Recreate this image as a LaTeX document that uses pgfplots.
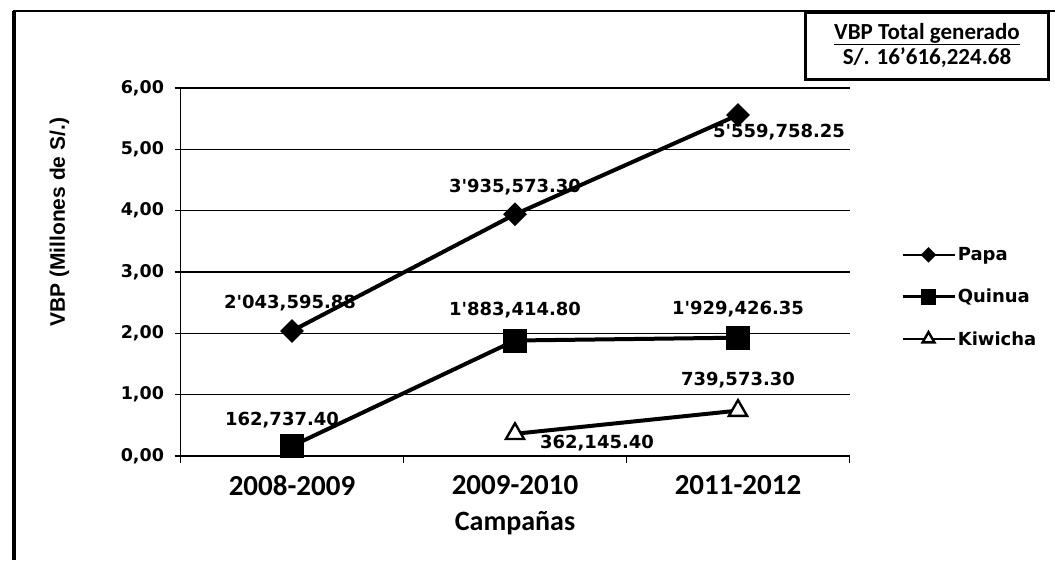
\documentclass[border=0pt]{standalone}
\usepackage{fontspec}
\setmainfont{Carlito}
\newfontfamily\dv{DejaVu Sans}
\newfontfamily\lib{Liberation Sans}
\usepackage{pgfplots}
\pgfplotsset{compat=1.18}
\newcommand{\dvl}{\dv\bfseries\fontsize{18}{21}\selectfont}
\newcommand{\dvt}{\dv\bfseries\fontsize{17.5}{20}\selectfont}
\begin{document}
\begin{tikzpicture}
\useasboundingbox (0,0) rectangle (1055pt,560pt);
% outer frame (left and top)
\draw[line width=3.5pt] (14pt,0pt) -- (14pt,549pt);
\draw[line width=2pt] (12.5pt,549pt) -- (1055pt,549pt);
% total box
\draw[line width=3pt, fill=white] (805pt,480pt) rectangle (1048pt,547pt);
\node[font=\bfseries\fontsize{23}{26}\selectfont] at (927pt,526pt) {\underline{VBP Total generado}};
\node[font=\bfseries\fontsize{23}{26}\selectfont] at (927pt,502pt) {S/. 16'616,224.68};
\begin{axis}[
  at={(180.5pt,104pt)}, anchor=south west,
  scale only axis, width=669pt, height=368pt,
  xmin=-0.5, xmax=2.5, ymin=0, ymax=6,
  axis x line*=bottom, axis y line*=left,
  axis line style={line width=1.6pt, -},
  xtick={0,1,2},
  xticklabels={2008-2009,2009-2010,2011-2012},
  minor xtick={-0.5,0.5,1.5,2.5},
  major x tick style={draw=none},
  minor x tick style={line width=1.4pt, black},
  minor tick length=7pt,
  ytick={0,1,2,3,4,5,6},
  yticklabels={{0,00},{1,00},{2,00},{3,00},{4,00},{5,00},{6,00}},
  major tick length=6pt,
  tick align=outside,
  y tick style={line width=1.4pt, black},
  ymajorgrids,
  grid style={line width=1.4pt, black},
  yticklabel style={font=\dvt, xshift=-7pt},
  xticklabel style={font=\bfseries\fontsize{29}{32}\selectfont, yshift=-10pt},
  xlabel={Campañas},
  xlabel style={font=\bfseries\fontsize{28}{31}\selectfont, at={(axis description cs:0.5,0)}, anchor=center, yshift=-67pt},
  ylabel={VBP (Millones de S/.)},
  ylabel style={font=\lib\bfseries\fontsize{21}{24}\selectfont, at={(axis description cs:-0.181,0.635)}, anchor=center},
  legend style={at={(axis description cs:1.077,0.432)}, anchor=west, draw=none, fill=none, inner sep=0pt, row sep=23pt, font=\dvl},
  legend cell align=left,
  legend image code/.code={\draw[mark repeat=2,mark phase=2,#1,line width=2.6pt,every mark/.append style={scale=0.65}] plot coordinates {(0pt,0pt)(26pt,0pt)(52pt,0pt)};},
  clip=false,
]
\addplot[black, line width=4pt, mark=square*, mark size=6.4pt, mark options={solid, rotate=45}] coordinates {(0,2.04) (1,3.94) (2,5.56)};
\addlegendentry{Papa}
\addplot[black, line width=4pt, mark=square*, mark size=10pt, mark options={solid}] coordinates {(0,0.163) (1,1.883) (2,1.929)};
\addlegendentry{Quinua}
\addplot[black, line width=4pt, mark=triangle*, mark size=10.5pt, mark options={solid, fill=white, line width=2.4pt}] coordinates {(1,0.362) (2,0.740)};
\addlegendentry{Kiwicha}
\node[font=\dvl] at (axis cs:0,2.04) [xshift=-2pt, yshift=28pt] {2'043,595.88};
\node[font=\dvl] at (axis cs:1,3.94) [yshift=27pt] {3'935,573.30};
\node[font=\dvl] at (axis cs:2,5.56) [xshift=41pt, yshift=-17pt] {5'559,758.25};
\node[font=\dvl] at (axis cs:0,0.163) [xshift=-10pt, yshift=26pt] {162,737.40};
\node[font=\dvl] at (axis cs:1,1.883) [yshift=30pt] {1'883,414.80};
\node[font=\dvl] at (axis cs:2,1.929) [yshift=29pt] {1'929,426.35};
\node[font=\dvl] at (axis cs:1,0.362) [xshift=82pt, yshift=-9pt] {362,145.40};
\node[font=\dvl] at (axis cs:2,0.740) [yshift=31pt] {739,573.30};
\end{axis}
\end{tikzpicture}
\end{document}
